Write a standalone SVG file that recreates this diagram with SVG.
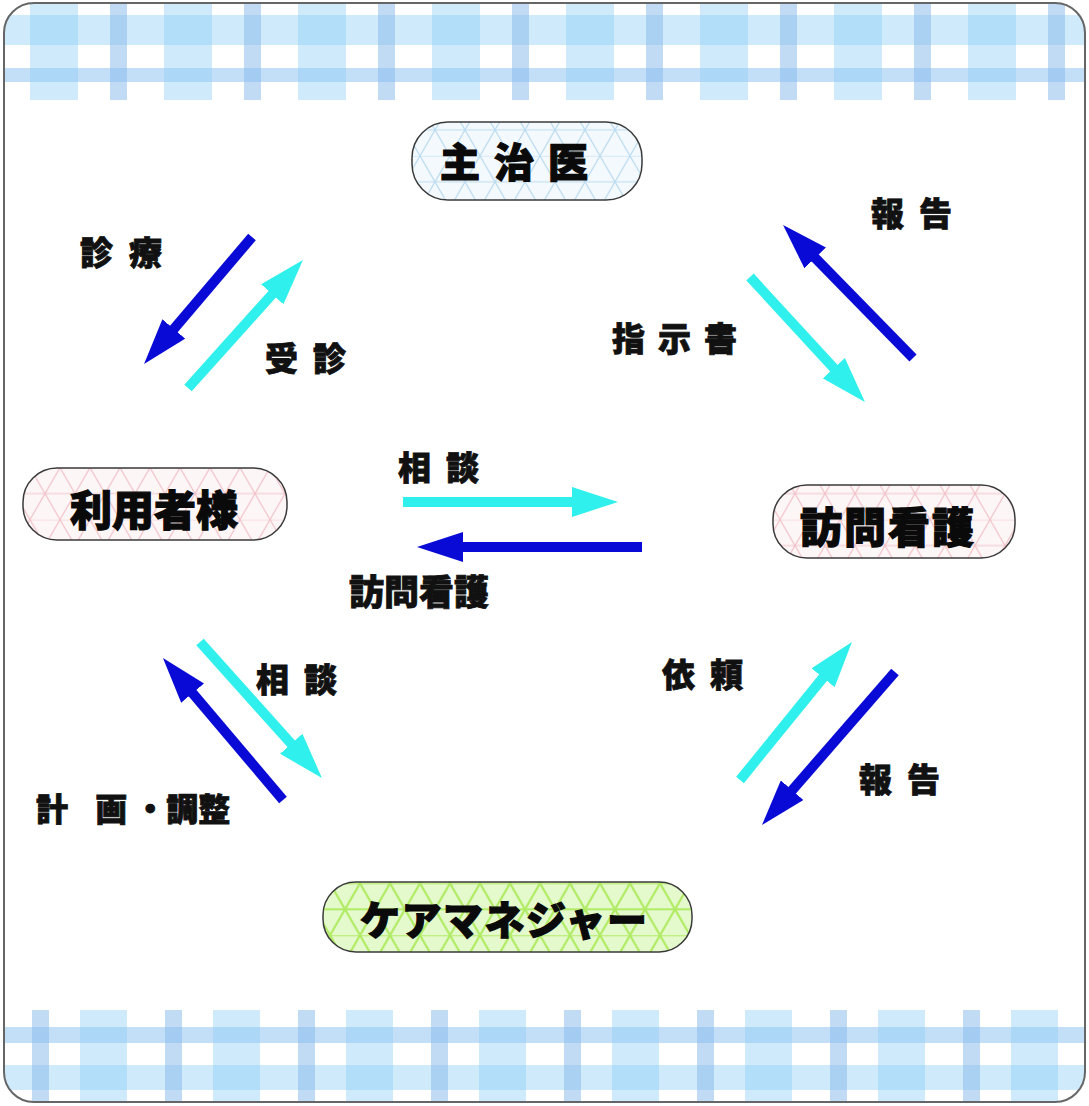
<svg xmlns="http://www.w3.org/2000/svg" width="1089" height="1106" viewBox="0 0 1089 1106">
<style>
.lbl{font-family:"Noto Sans CJK JP","Noto Sans CJK SC",sans-serif;font-weight:900;fill:#111;stroke:#111;stroke-width:0.8;dominant-baseline:central}
.nlbl{font-family:"Noto Sans CJK JP","Noto Sans CJK SC",sans-serif;font-weight:900;fill:#0a0a0a;stroke:#0a0a0a;stroke-width:1.2;dominant-baseline:central}
.pill{stroke:#3a3a3a;stroke-width:1.5}
.wide{fill:#8ccdf6;fill-opacity:0.42}
.narrow{fill:#86b8ea;fill-opacity:0.5}
.hlight{fill:#8ccdf6;fill-opacity:0.42}
.hmed{fill:#7ab9ef;fill-opacity:0.45}
.blue{stroke:#0a0ad6;stroke-width:10;fill:none}
.cyan{stroke:#2ff0ec;stroke-width:10;fill:none}
</style>
<defs>
<clipPath id="frameClip"><rect x="4" y="3" width="1081" height="1099" rx="30"/></clipPath>
<marker id="hBlue" markerUnits="userSpaceOnUse" viewBox="0 0 46 30" markerWidth="46" markerHeight="30" refX="1" refY="15" orient="auto"><path d="M0,0 L46,15 L0,30 z" fill="#0a0ad6"/></marker>
<marker id="hCyan" markerUnits="userSpaceOnUse" viewBox="0 0 46 30" markerWidth="46" markerHeight="30" refX="1" refY="15" orient="auto"><path d="M0,0 L46,15 L0,30 z" fill="#2ff0ec"/></marker>
<pattern id="patBlue" patternUnits="userSpaceOnUse" width="30" height="51.96">
<rect width="30" height="51.96" fill="#f3f9fd"/>
<path d="M0,0 H30 M0,25.98 H30 M0,0 L30,51.96 M30,0 L0,51.96" stroke="#bcdcf0" stroke-width="1.2" fill="none"/>
</pattern>
<pattern id="patPink" patternUnits="userSpaceOnUse" width="30" height="51.96">
<rect width="30" height="51.96" fill="#fdf6f7"/>
<path d="M0,0 H30 M0,25.98 H30 M0,0 L30,51.96 M30,0 L0,51.96" stroke="#f2c4cb" stroke-width="1.2" fill="none"/>
</pattern>
<pattern id="patGreen" patternUnits="userSpaceOnUse" width="30" height="51.96">
<rect width="30" height="51.96" fill="#e4f9cc"/>
<path d="M0,0 H30 M0,25.98 H30 M0,0 L30,51.96 M30,0 L0,51.96" stroke="#b2ec66" stroke-width="2.2" fill="none"/>
</pattern>
</defs>

<g id="frame">
<rect x="4" y="3" width="1081" height="1099" rx="30" fill="#ffffff"/>
<g clip-path="url(#frameClip)">
<rect class="hlight" x="0" y="15" width="1089" height="30"/>
<rect class="hmed" x="0" y="68" width="1089" height="14"/>
<rect class="wide" x="30" y="0" width="48" height="100"/>
<rect class="wide" x="164" y="0" width="48" height="100"/>
<rect class="wide" x="298" y="0" width="48" height="100"/>
<rect class="wide" x="432" y="0" width="48" height="100"/>
<rect class="wide" x="566" y="0" width="48" height="100"/>
<rect class="wide" x="700" y="0" width="48" height="100"/>
<rect class="wide" x="834" y="0" width="48" height="100"/>
<rect class="wide" x="968" y="0" width="48" height="100"/>
<rect class="narrow" x="110" y="0" width="17" height="100"/>
<rect class="narrow" x="244" y="0" width="17" height="100"/>
<rect class="narrow" x="378" y="0" width="17" height="100"/>
<rect class="narrow" x="512" y="0" width="17" height="100"/>
<rect class="narrow" x="646" y="0" width="17" height="100"/>
<rect class="narrow" x="780" y="0" width="17" height="100"/>
<rect class="narrow" x="914" y="0" width="17" height="100"/>
<rect class="narrow" x="1048" y="0" width="17" height="100"/>
<rect class="hmed" x="0" y="1027" width="1089" height="16"/>
<rect class="hlight" x="0" y="1065" width="1089" height="25"/>
<rect class="narrow" x="32" y="1010" width="17" height="96"/>
<rect class="narrow" x="165" y="1010" width="17" height="96"/>
<rect class="narrow" x="298" y="1010" width="17" height="96"/>
<rect class="narrow" x="431" y="1010" width="17" height="96"/>
<rect class="narrow" x="564" y="1010" width="17" height="96"/>
<rect class="narrow" x="697" y="1010" width="17" height="96"/>
<rect class="narrow" x="830" y="1010" width="17" height="96"/>
<rect class="narrow" x="963" y="1010" width="17" height="96"/>
<rect class="wide" x="80" y="1010" width="47" height="96"/>
<rect class="wide" x="213" y="1010" width="47" height="96"/>
<rect class="wide" x="346" y="1010" width="47" height="96"/>
<rect class="wide" x="479" y="1010" width="47" height="96"/>
<rect class="wide" x="612" y="1010" width="47" height="96"/>
<rect class="wide" x="745" y="1010" width="47" height="96"/>
<rect class="wide" x="878" y="1010" width="47" height="96"/>
<rect class="wide" x="1011" y="1010" width="47" height="96"/>
</g>
<rect x="4" y="3" width="1081" height="1099" rx="30" fill="none" stroke="#666" stroke-width="2"/>
</g>

<g id="connectors">
<line class="blue" x1="252" y1="237" x2="173.2" y2="329.7" marker-end="url(#hBlue)"/>
<line class="cyan" x1="188" y1="388" x2="272.9" y2="293.5" marker-end="url(#hCyan)"/>
<line class="blue" x1="913" y1="358" x2="814.5" y2="257.2" marker-end="url(#hBlue)"/>
<line class="cyan" x1="750" y1="277" x2="834.5" y2="368.9" marker-end="url(#hCyan)"/>
<line class="cyan" x1="403" y1="502" x2="573" y2="502" marker-end="url(#hCyan)"/>
<line class="blue" x1="642" y1="547" x2="462" y2="547" marker-end="url(#hBlue)"/>
<line class="cyan" x1="200" y1="642" x2="291.9" y2="744.5" marker-end="url(#hCyan)"/>
<line class="blue" x1="283" y1="800" x2="192" y2="692.4" marker-end="url(#hBlue)"/>
<line class="cyan" x1="740" y1="780" x2="823.6" y2="677" marker-end="url(#hCyan)"/>
<line class="blue" x1="895" y1="672" x2="791.5" y2="791" marker-end="url(#hBlue)"/>
</g>

<g id="connector-labels">
<text class="lbl" x="80" y="251" font-size="33" letter-spacing="16">診療</text>
<text class="lbl" x="265" y="357" font-size="33" letter-spacing="15">受診</text>
<text class="lbl" x="871" y="212" font-size="33" letter-spacing="15">報告</text>
<text class="lbl" x="612" y="337" font-size="33" letter-spacing="13">指示書</text>
<text class="lbl" x="398" y="466" font-size="33" letter-spacing="15">相談</text>
<text class="lbl" x="349" y="589" font-size="35">訪問看護</text>
<text class="lbl" x="256" y="678" font-size="33" letter-spacing="15">相談</text>
<text class="lbl" font-size="32" y="807" xml:space="preserve"><tspan x="36">計</tspan><tspan x="88"> 画</tspan><tspan x="127"> ・調整</tspan></text>
<text class="lbl" x="662" y="673" font-size="33" letter-spacing="15">依頼</text>
<text class="lbl" x="859" y="778" font-size="33" letter-spacing="15">報告</text>
</g>

<g id="node-shujii">
<rect class="pill" x="412" y="122" width="230" height="78" rx="36" fill="url(#patBlue)"/>
<text class="nlbl" x="440" y="160" font-size="40" letter-spacing="14">主治医</text>
</g>
<g id="node-riyousha">
<rect class="pill" x="23" y="468" width="264" height="72" rx="34" fill="url(#patPink)"/>
<text class="nlbl" x="70" y="507" font-size="42">利用者様</text>
</g>
<g id="node-houmon">
<rect class="pill" x="773" y="485" width="242" height="73" rx="34" fill="url(#patPink)"/>
<text class="nlbl" x="800" y="524" font-size="42" letter-spacing="2">訪問看護</text>
</g>
<g id="node-caremanager">
<rect class="pill" x="323" y="882" width="369" height="70" rx="33" fill="url(#patGreen)"/>
<text class="nlbl" x="360" y="918" font-size="40" letter-spacing="1.5">ケアマネジャー</text>
</g>
</svg>
